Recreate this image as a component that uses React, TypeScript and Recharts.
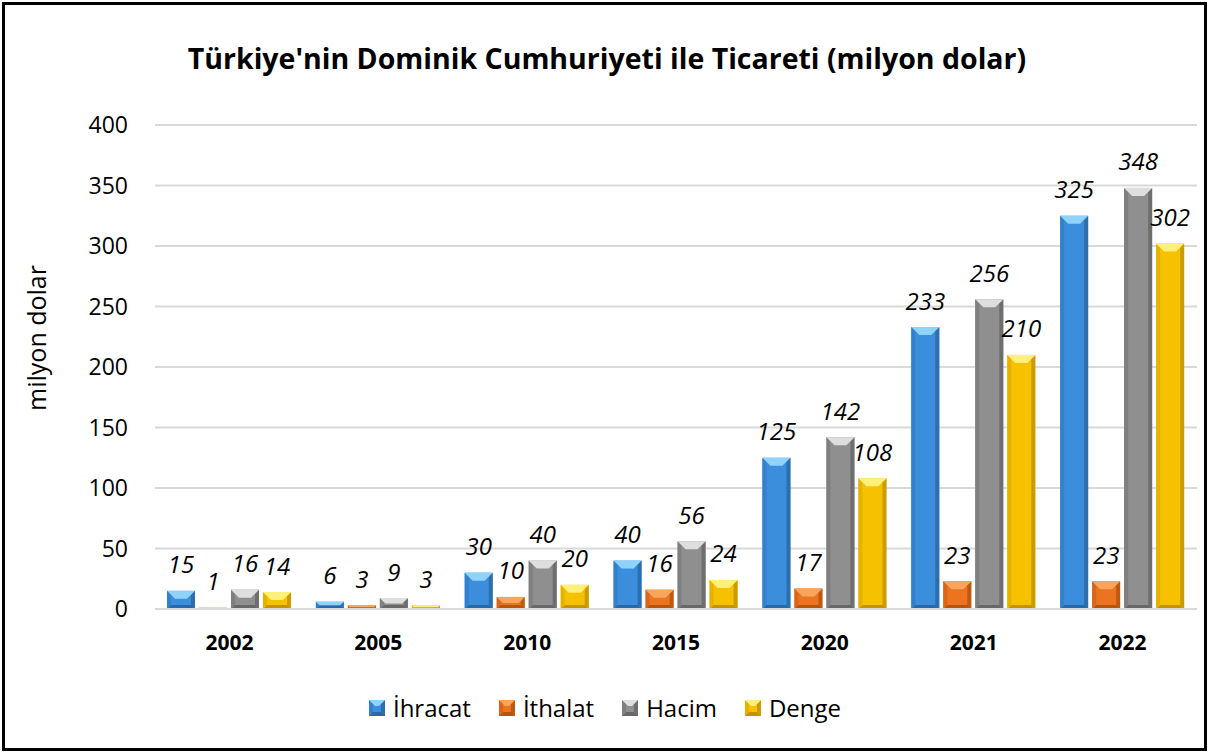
import React from 'react';
import { BarChart, Bar, XAxis, YAxis, CartesianGrid, LabelList } from 'recharts';

const years = ['2002', '2005', '2010', '2015', '2020', '2021', '2022'];
const ihracat = [15, 6, 30, 40, 125, 233, 325];
const ithalat = [1, 3, 10, 16, 17, 23, 23];
const hacim = [16, 9, 40, 56, 142, 256, 348];
const denge = [14, 3, 20, 24, 108, 210, 302];
const yTicks = [0, 50, 100, 150, 200, 250, 300, 350, 400];

const series = [
  { key: 'ihracat', name: 'İhracat', values: ihracat, main: '#3b8edb', light: '#8fd2fa', dark: '#2a68a6', side: '#3381cc' },
  { key: 'ithalat', name: 'İthalat', values: ithalat, main: '#ec7420', light: '#faa55c', dark: '#b5560f', side: '#db661a' },
  { key: 'hacim', name: 'Hacim', values: hacim, main: '#8f8f8f', light: '#dedede', dark: '#686868', side: '#7f7f7f' },
  { key: 'denge', name: 'Denge', values: denge, main: '#f6c200', light: '#fff07a', dark: '#c49400', side: '#e5b200' },
];

const data = years.map((y, i) => {
  const row: any = { year: y };
  series.forEach((s) => { row[s.key] = s.values[i]; });
  return row;
});

const FONT = '"Open Sans", "Noto Sans", sans-serif';

const makeShape = (s: any) => (props: any) => {
  const { x, y, width: w, height: h } = props;
  if (w == null || h == null || h <= 0) return <g />;
  const b = Math.min(8, h / 2, w / 2);
  const sb = Math.min(4, h / 2, w / 2);
  return (
    <g>
      <rect x={x} y={y} width={w} height={h} fill={s.main} />
      <polygon points={`${x},${y + h} ${x + w},${y + h} ${x + w - sb},${y + h - sb} ${x + sb},${y + h - sb}`} fill={s.dark} />
      <polygon points={`${x},${y} ${x + sb},${y + sb} ${x + sb},${y + h - sb} ${x},${y + h}`} fill={s.side} />
      <polygon points={`${x + w},${y} ${x + w - sb},${y + sb} ${x + w - sb},${y + h - sb} ${x + w},${y + h}`} fill={s.dark} opacity={0.85} />
      <polygon points={`${x},${y} ${x + w},${y} ${x + w - b},${y + b} ${x + b},${y + b}`} fill={s.light} />
    </g>
  );
};

const renderLabel = (props: any) => {
  const { x, y, width, value } = props;
  return (
    <text x={x + width / 2} y={y - 27} textAnchor="middle" dominantBaseline="central"
      fontFamily={FONT} fontStyle="italic" fontSize={24} fill="#000">
      {value}
    </text>
  );
};

export default function App() {
  return (
    <div style={{ position: 'absolute', left: 0, top: 0, width: 1210, height: 756, background: '#fff', fontFamily: FONT }}>
      <div style={{ position: 'absolute', left: 2, top: 2, width: 1205, height: 749, border: '3px solid #000', boxSizing: 'border-box' }} />
      <div style={{ position: 'absolute', left: 0, top: 38, width: 1214, textAlign: 'center', fontWeight: 700, fontSize: 28.5, lineHeight: '40px', color: '#000' }}>
        Türkiye'nin Dominik Cumhuriyeti ile Ticareti (milyon dolar)
      </div>
      <div style={{ position: 'absolute', left: 0, top: 0 }}>
        <BarChart width={1210} height={756} data={data}
          margin={{ top: 125, right: 13, left: 0, bottom: 107 }}
          barSize={28} barGap={4}>
          <CartesianGrid vertical={false} stroke="#d9d9d9" strokeWidth={2} />
          <XAxis dataKey="year" height={40} axisLine={{ stroke: '#d9d9d9', strokeWidth: 2 }} tickLine={false} tickSize={0} tickMargin={26}
            tick={{ fontFamily: FONT, fontWeight: 700, fontSize: 21, fill: '#000' }} />
          <YAxis width={155} domain={[0, 400]} ticks={yTicks} axisLine={false} tickLine={false} tickSize={0} tickMargin={27}
            tick={{ fontFamily: FONT, fontSize: 23, fill: '#000' }}
            label={(p: any) => (
              <text x={36} y={338} transform="rotate(-90 36 338)" textAnchor="middle" dominantBaseline="central"
                fontFamily={FONT} fontSize={25} fill="#000">milyon dolar</text>
            )} />
          {series.map((s) => (
            <Bar key={s.key} dataKey={s.key} name={s.name} fill={s.main} isAnimationActive={false} shape={makeShape(s)}>
              <LabelList dataKey={s.key} content={renderLabel} />
            </Bar>
          ))}
        </BarChart>
      </div>
      <div style={{ position: 'absolute', left: 0, top: 690, width: 1210, display: 'flex', justifyContent: 'center', alignItems: 'center', gap: 28 }}>
        {series.map((s) => (
          <div key={s.key} style={{ display: 'flex', alignItems: 'center' }}>
            <svg width={16} height={16} style={{ marginRight: 8 }}>
              <rect x={0} y={0} width={16} height={16} fill={s.main} />
              <polygon points="0,16 16,16 12,12 4,12" fill={s.dark} />
              <polygon points="0,0 4,4 4,12 0,16" fill={s.side} />
              <polygon points="16,0 12,4 12,12 16,16" fill={s.dark} opacity={0.85} />
              <polygon points="0,0 16,0 10,6 6,6" fill={s.light} />
            </svg>
            <span style={{ fontSize: 24, color: '#000', lineHeight: '36px' }}>{s.name}</span>
          </div>
        ))}
      </div>
    </div>
  );
}
